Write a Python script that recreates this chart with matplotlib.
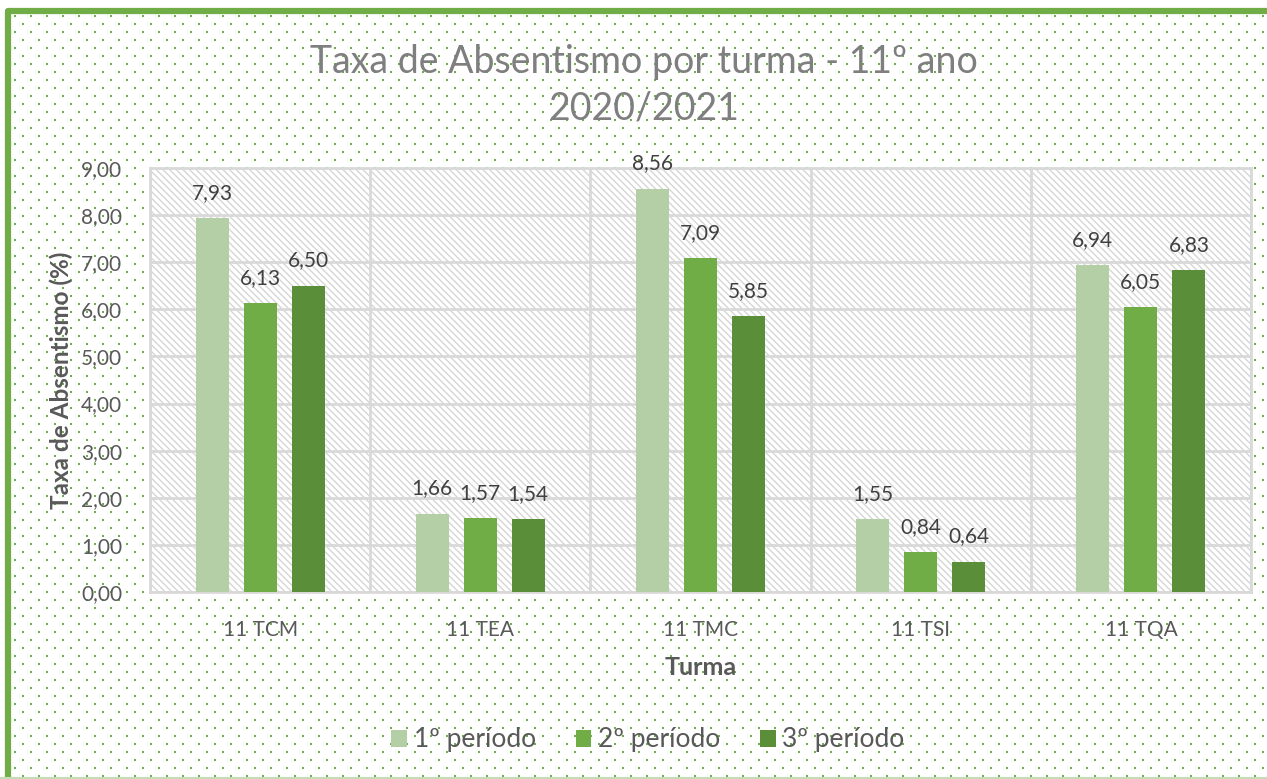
import numpy as np
import matplotlib
matplotlib.use("Agg")
import matplotlib.pyplot as plt
from matplotlib.patches import Patch

turmas = ["11 TCM", "11 TEA", "11 TMC", "11 TSI", "11 TQA"]
periodos = ["1º período", "2º período", "3º período"]
p1 = [7.93, 1.66, 8.56, 1.55, 6.94]
p2 = [6.13, 1.57, 7.09, 0.84, 6.05]
p3 = [6.50, 1.54, 5.85, 0.64, 6.83]
cores = ["#B4CEA6", "#70AD47", "#5A8E38"]

plt.rcParams['font.family'] = ['Lato', 'DejaVu Sans']
plt.rcParams['hatch.linewidth'] = 1.0

W, H = 1267, 779
fig = plt.figure(figsize=(W / 100, H / 100), dpi=100)
fig.patch.set_facecolor("white")

# fundo com pontos verdes (padrao do grafico)
bg = fig.add_axes([0, 0, 1, 1], zorder=-5)
bg.set_xlim(0, W)
bg.set_ylim(H, 0)
bg.axis("off")
ys = np.arange(15.7, H, 8)
for k, yy in enumerate(ys):
    x0 = 14.7 if k % 2 == 0 else 6.7
    xs = np.arange(x0, W, 16)
    xs = xs[xs > 12]
    bg.plot(xs, np.full_like(xs, yy), ls="none", marker="s", ms=1.5,
            color="#70AD47", mew=0)
# moldura verde
bg.plot([7.5, 7.5, W + 5], [H + 5, 11, 11], color="#70AD47", lw=4.5,
        solid_joinstyle="round")
bg.plot([0, W], [777.5, 777.5], color="#C5DDB5", lw=1.5)

ax = fig.add_axes([150 / W, 1 - 592 / H, (1251 - 150) / W, (592 - 168) / H])
ax.set_facecolor("white")
ax.add_patch(plt.Rectangle((0, 0), 1, 1, transform=ax.transAxes,
                           facecolor="white", edgecolor="#D6D6D6", lw=0,
                           hatch="\\\\\\\\\\", zorder=0))

x = np.arange(len(turmas))
w = 0.15
off = 0.218
for i, (vals, cor) in enumerate(zip([p1, p2, p3], cores)):
    bars = ax.bar(x + (i - 1) * off, vals, w, color=cor, label=periodos[i],
                  zorder=3)
    for b, v in zip(bars, vals):
        ax.annotate(f"{v:.2f}".replace(".", ","),
                    (b.get_x() + b.get_width() / 2, v),
                    xytext=(0, 11), textcoords="offset points",
                    ha="center", va="bottom", fontsize=15, color="#404040",
                    zorder=4)

ax.set_xlim(-0.5, len(turmas) - 0.5)
ax.set_ylim(0, 9)
ax.set_yticks(np.arange(0, 10, 1))
ax.set_yticklabels([f"{v:.2f}".replace(".", ",") for v in np.arange(0, 10, 1)])
ax.set_xticks(x)
ax.set_xticklabels(turmas)
ax.set_xticks(np.arange(-0.5, len(turmas), 1), minor=True)
ax.grid(axis="y", color="#D9D9D9", lw=2, zorder=1)
ax.grid(axis="x", which="minor", color="#D9D9D9", lw=2, zorder=1)
ax.tick_params(axis="both", which="both", length=0, labelsize=15,
               labelcolor="#595959")
ax.tick_params(axis="x", pad=20)
ax.tick_params(axis="y", pad=20)
for s in ax.spines.values():
    s.set_color("#D9D9D9")
    s.set_linewidth(2)

ax.set_ylabel("Taxa de Absentismo (%)", fontsize=17.5, fontweight="bold",
              color="#595959", labelpad=6)
ax.set_xlabel("Turma", fontsize=18, fontweight="bold", color="#595959",
              labelpad=12)

fig.text(644 / W, 1 - 85 / H, "Taxa de Absentismo por turma - 11º ano\n2020/2021",
         ha="center", va="center", fontsize=27, color="#7F7F7F",
         fontweight="normal", linespacing=1.35)

handles = [Patch(facecolor=c, label=l) for c, l in zip(cores, periodos)]
fig.legend(handles=handles, loc="center", bbox_to_anchor=(648 / W, 1 - 740 / H),
           ncol=3, frameon=False, fontsize=19, labelcolor="#595959",
           handlelength=0.6, handleheight=0.6, handletextpad=0.25,
           columnspacing=1.5)

fig.savefig("out.png", dpi=100)
